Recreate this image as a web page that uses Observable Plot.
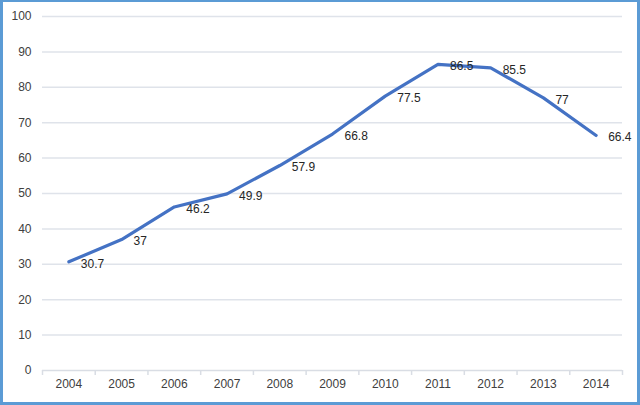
<!DOCTYPE html>
<html>
<head>
<meta charset="utf-8">
<script src="https://cdn.jsdelivr.net/npm/d3@7"></script>
<script src="https://cdn.jsdelivr.net/npm/@observablehq/plot@0.6"></script>
<style>
  html, body { margin: 0; padding: 0; background: #fff; }
  #wrap { position: relative; width: 640px; height: 405px; overflow: hidden; }
  #border { position: absolute; left: 0; top: 0; width: 640px; height: 405px; box-sizing: border-box;
            border-style: solid; border-color: #5B9BD5; border-width: 2px 3px 3px 3px; pointer-events: none; }
</style>
</head>
<body>
<div id="wrap"><div id="border"></div></div>
<script>
const years = [2004, 2005, 2006, 2007, 2008, 2009, 2010, 2011, 2012, 2013, 2014];
const values = [30.7, 37, 46.2, 49.9, 57.9, 66.8, 77.5, 86.5, 85.5, 77, 66.4];
const labels = ["30.7", "37", "46.2", "49.9", "57.9", "66.8", "77.5", "86.5", "85.5", "77", "66.4"];
const yTicks = [0, 10, 20, 30, 40, 50, 60, 70, 80, 90, 100];

const data = years.map((year, i) => ({year, value: values[i], label: labels[i]}));
const boundaries = years.map(y => y - 0.5).concat([years[years.length - 1] + 0.5]);
const font = "'Liberation Sans', Arial, sans-serif";

const chart = Plot.plot({
  width: 640,
  height: 405,
  marginLeft: 42,
  marginRight: 18,
  marginTop: 16,
  marginBottom: 35,
  style: {fontFamily: font, fontSize: "12px", color: "#404040", background: "#fff"},
  x: {type: "linear", domain: [years[0] - 0.5, years[years.length - 1] + 0.5], axis: null},
  y: {domain: [0, 100], axis: null},
  marks: [
    Plot.ruleY(yTicks.filter(d => d > 0), {stroke: "#dfe3ea", strokeWidth: 1.5}),
    Plot.ruleY([0], {stroke: "#d9dde4", strokeWidth: 1.5}),
    Plot.axisY(yTicks, {tickSize: 0, tickPadding: 11, fontSize: 12, fill: "#404040", label: null}),
    Plot.axisX(boundaries, {tickSize: 5, stroke: "#d9dde4", strokeWidth: 1.5, tickFormat: () => "", label: null}),
    Plot.axisX(years, {tickSize: 0, tickPadding: 9, fontSize: 12, fill: "#404040", tickFormat: d => String(d), label: null}),
    Plot.line(data, {x: "year", y: "value", stroke: "#4472C4", strokeWidth: 3.2,
      strokeLinejoin: "round", strokeLinecap: "round",
      style: "filter: drop-shadow(1px 2px 1.5px rgba(0,0,0,0.35))"}),
    Plot.text(data, {x: "year", y: "value", text: "label", textAnchor: "start", dx: 12, dy: 2,
      fontSize: 12, fill: "#262626"})
  ]
});
document.getElementById("wrap").insertBefore(chart, document.getElementById("border"));
</script>
</body>
</html>
